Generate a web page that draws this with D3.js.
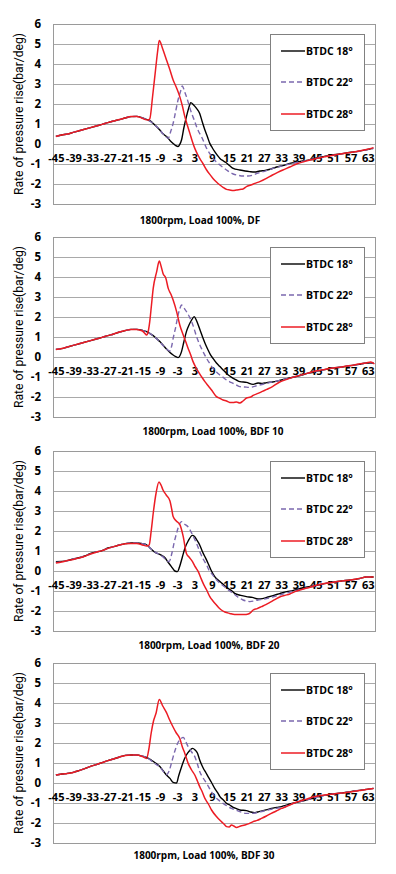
<!DOCTYPE html>
<html><head><meta charset="utf-8">
<script src="https://cdn.jsdelivr.net/npm/d3@7"></script>
<style>body{margin:0;background:#fff}svg{display:block}</style>
</head><body>
<svg id="c" width="396" height="874"></svg>
<script>
// ---------- DATA (crank angle [deg], rate of pressure rise [bar/deg]) ----------
const SERIES_NAMES = ["BTDC 18\u00B0", "BTDC 22\u00B0", "BTDC 28\u00B0"];
const TITLES = ["1800rpm, Load 100%, DF", "1800rpm, Load 100%, BDF 10", "1800rpm, Load 100%, BDF 20", "1800rpm, Load 100%, BDF 30"];
const Y_TICKS = [6, 5, 4, 3, 2, 1, 0, -1, -2, -3];
const X_TICKS = [-45, -39, -33, -27, -21, -15, -9, -3, 3, 9, 15, 21, 27, 33, 39, 45, 51, 57, 63];

const DF_18 = [[-45,0.38],[-43,0.45],[-41,0.5],[-39,0.58],[-37,0.66],[-35,0.74],[-33,0.82],[-31,0.9],[-29,0.98],[-27,1.07],[-25,1.15],[-23,1.22],[-21,1.3],[-19,1.37],[-17,1.38],[-15,1.3],[-14,1.25],
 [-13,1.2],[-12,1.12],[-11.3,1.03],[-10,0.85],[-9,0.7],[-8,0.52],[-6.7,0.37],[-5.5,0.18],[-4.4,0.03],[-3.5,-0.08],[-2.7,-0.13],[-2.1,-0.02],[-1.5,0.2],[-0.7,0.8],[0.2,1.37],[1,1.8],[1.7,2.07],[2.7,1.95],[3.7,1.78],[4.8,1.53],[5.7,1.1],[6.6,0.7],[7.5,0.35],[8.3,0.03],[9.2,-0.2],[10,-0.38],[11,-0.58],[11.8,-0.72],[13,-0.85],[14.1,-0.95],[15.3,-1.1],[16.4,-1.22],[18.7,-1.3],[20.5,-1.35],[22.1,-1.38],[23.8,-1.4],[25.6,-1.35],[27.5,-1.32],[29.5,-1.25],[31.4,-1.15],[33.5,-1.08],[36,-0.97],[38.5,-0.9],[41.8,-0.82],[44.5,-0.72],[47.5,-0.63],[50.5,-0.55],[53.3,-0.5],[56,-0.44],[59,-0.38],[62,-0.3],[64.8,-0.22]];
const DF_22 = [[-45,0.38],[-43,0.45],[-41,0.5],[-39,0.58],[-37,0.66],[-35,0.74],[-33,0.82],[-31,0.9],[-29,0.98],[-27,1.07],[-25,1.15],[-23,1.22],[-21,1.3],[-19,1.37],[-17,1.38],[-15,1.3],[-14,1.25],
 [-13,1.18],[-12,1.1],[-11,0.98],[-10,0.85],[-9,0.7],[-8,0.52],[-7,0.38],[-6.1,0.28],[-5.3,0.6],[-4.4,1.03],[-3.5,1.65],[-2.7,2.2],[-1.9,2.6],[-1.2,2.9],[-0.5,2.65],[0.2,2.37],[1.1,1.95],[2,1.53],[2.9,1.2],[3.7,0.87],[4.5,0.6],[5.4,0.37],[6.3,0.08],[7.2,-0.22],[8.3,-0.48],[9.4,-0.72],[10.6,-0.9],[11.8,-1.05],[13,-1.18],[14.1,-1.3],[15.3,-1.42],[16.4,-1.5],[18,-1.56],[19.8,-1.6],[21.5,-1.6],[23.3,-1.55],[25,-1.45],[26.8,-1.38],[28.5,-1.3],[30.2,-1.22],[32.5,-1.13],[35,-1.03],[37.5,-0.95],[40,-0.88],[42.5,-0.8],[45,-0.72],[48,-0.63],[51,-0.56],[54,-0.49],[57,-0.43],[60,-0.36],[63,-0.28],[65,-0.22]];
const DF_28 = [[-45,0.38],[-43,0.45],[-41,0.5],[-39,0.58],[-37,0.66],[-35,0.74],[-33,0.82],[-31,0.9],[-29,0.98],[-27,1.07],[-25,1.15],[-23,1.22],[-21,1.3],[-19,1.37],[-17,1.38],[-15,1.28],[-14,1.22],
 [-13.1,1.2],[-12.5,1.25],[-11.5,2.4],[-10.5,3.7],[-9.8,4.6],[-9.2,5.17],[-8,4.75],[-6.7,4.2],[-5.5,3.7],[-4.4,3.2],[-3.2,2.8],[-2.1,2.37],[-1.2,1.9],[-0.35,1.37],[0.5,0.95],[1.4,0.53],[2.2,0.15],[3.1,-0.22],[4,-0.5],[4.8,-0.72],[6,-1.0],[7.2,-1.3],[8.3,-1.52],[9.4,-1.72],[10.6,-1.9],[11.8,-2.05],[13,-2.18],[14.1,-2.27],[15.2,-2.3],[16.4,-2.33],[17.5,-2.3],[18.7,-2.27],[19.8,-2.25],[21,-2.13],[22.5,-2.05],[23.9,-1.97],[25.6,-1.88],[27.9,-1.72],[30,-1.55],[31.8,-1.42],[33.6,-1.3],[36,-1.15],[38.3,-1.0],[41,-0.88],[43,-0.8],[45.2,-0.72],[48,-0.64],[51,-0.56],[54,-0.49],[57,-0.42],[60,-0.35],[63,-0.26],[65,-0.18]];

const BDF10_18 = [[-45,0.38],[-43,0.42],[-41,0.5],[-39,0.58],[-37,0.66],[-35,0.74],[-33,0.82],[-31,0.9],[-29,0.98],[-27,1.07],[-25,1.15],[-23,1.25],[-21,1.32],[-19,1.38],[-17,1.38],[-15,1.33],
 [-13.6,1.27],[-12.5,1.18],[-11.3,1.07],[-10,0.9],[-9,0.77],[-7.8,0.58],[-6.7,0.4],[-5.5,0.22],[-4.4,0.1],[-3.5,0.02],[-2.7,-0.03],[-2.1,0.05],[-1.5,0.27],[-0.7,0.75],[0.2,1.27],[1.1,1.6],[2,1.85],[2.9,2.02],[3.6,1.85],[4.3,1.6],[5.1,1.27],[6,0.93],[6.9,0.6],[7.7,0.35],[8.5,0.12],[9.4,-0.07],[10.6,-0.3],[11.8,-0.48],[13,-0.66],[14.1,-0.82],[15.2,-0.95],[16.4,-1.07],[17.5,-1.15],[18.7,-1.23],[21,-1.27],[23.3,-1.37],[25,-1.3],[26.5,-1.32],[28,-1.28],[30,-1.25],[32.5,-1.17],[35,-1.08],[37.5,-1.0],[39.5,-0.93],[42,-0.82],[45,-0.72],[48,-0.63],[51,-0.55],[54,-0.5],[57,-0.43],[60,-0.37],[62.5,-0.3],[65,-0.3]];
const BDF10_22 = [[-45,0.38],[-43,0.42],[-41,0.5],[-39,0.58],[-37,0.66],[-35,0.74],[-33,0.82],[-31,0.9],[-29,0.98],[-27,1.07],[-25,1.15],[-23,1.25],[-21,1.32],[-19,1.38],[-17,1.38],[-15,1.33],
 [-13.6,1.27],[-12.5,1.18],[-11.3,1.05],[-10,0.9],[-9,0.75],[-7.8,0.56],[-6.7,0.4],[-5.5,0.3],[-4.9,0.55],[-4.4,0.93],[-3.5,1.5],[-2.7,2.1],[-2.1,2.4],[-1.5,2.6],[-0.6,2.45],[0.2,2.27],[1.1,2.05],[2,1.77],[2.9,1.4],[3.7,1.02],[4.5,0.72],[5.4,0.43],[6.3,0.17],[7.2,-0.07],[8.3,-0.33],[9.4,-0.57],[10.6,-0.75],[11.8,-0.9],[13,-1.03],[14.1,-1.15],[15.2,-1.24],[16.4,-1.32],[17.5,-1.4],[18.7,-1.48],[20.4,-1.5],[22.1,-1.52],[23.5,-1.48],[25,-1.42],[27,-1.35],[29,-1.28],[31,-1.22],[33,-1.15],[35.5,-1.07],[38,-0.98],[40,-0.9],[42.5,-0.8],[45,-0.72],[48,-0.63],[51,-0.55],[54,-0.5],[57,-0.43],[60,-0.37],[62.5,-0.3],[65,-0.28]];
const BDF10_28 = [[-45,0.38],[-43,0.42],[-41,0.5],[-39,0.58],[-37,0.66],[-35,0.74],[-33,0.82],[-31,0.9],[-29,0.98],[-27,1.07],[-25,1.15],[-23,1.25],[-21,1.32],[-19,1.38],[-17,1.38],[-15,1.3],
 [-14.2,1.18],[-13.6,1.1],[-13,1.3],[-12.5,1.77],[-11.9,2.6],[-11.3,3.43],[-10.1,4.27],[-9.2,4.8],[-8.5,4.5],[-7.9,4.18],[-6.9,3.93],[-6.1,3.43],[-5.2,3.15],[-4.4,2.85],[-3.2,2.27],[-2.1,1.6],[-0.9,1.1],[0,0.75],[0.8,0.43],[1.7,0.1],[2.5,-0.23],[3.4,-0.5],[4.3,-0.73],[5.5,-1.0],[6.6,-1.23],[7.8,-1.45],[8.9,-1.65],[10.6,-1.98],[11.8,-2.07],[12.9,-2.15],[14.1,-2.2],[15.2,-2.27],[16.4,-2.28],[17.5,-2.25],[18.7,-2.3],[19.8,-2.2],[21,-2.05],[22.5,-2.0],[23.3,-1.92],[25,-1.82],[26.5,-1.72],[28,-1.62],[30,-1.48],[32.5,-1.25],[35,-1.12],[37,-1.02],[39.5,-0.92],[42,-0.82],[45,-0.7],[48,-0.62],[51,-0.55],[54,-0.5],[57,-0.43],[60,-0.35],[62.5,-0.3],[64,-0.25],[65.3,-0.35]];

const BDF20_18 = [[-45,0.47],[-43,0.48],[-41,0.52],[-39,0.6],[-37,0.66],[-35,0.75],[-33,0.88],[-31,0.95],[-29,1.02],[-27,1.15],[-25,1.22],[-23,1.3],[-21,1.37],[-19,1.4],[-17,1.4],[-15,1.37],
 [-13.5,1.3],[-12,1.1],[-10.5,0.92],[-9,0.83],[-8,0.75],[-7.3,0.67],[-6.2,0.45],[-5,0.22],[-3.8,0.0],[-2.9,-0.03],[-2.2,0.2],[-1.2,0.7],[-0.3,1.15],[0.8,1.5],[2.3,1.78],[3,1.72],[3.8,1.55],[4.8,1.3],[5.8,0.95],[6.9,0.63],[7.8,0.35],[8.7,0.05],[10,-0.28],[11.8,-0.53],[13.2,-0.7],[14.6,-0.87],[16,-1.0],[16.9,-1.12],[19,-1.22],[21,-1.28],[23,-1.32],[25,-1.4],[26.5,-1.38],[28,-1.32],[30.2,-1.23],[32.5,-1.13],[34.9,-1.03],[37,-0.98],[39,-0.9],[42,-0.8],[45,-0.72],[48,-0.63],[51,-0.56],[54,-0.5],[57,-0.45],[60,-0.38],[62.5,-0.3],[65,-0.3]];
const BDF20_22 = [[-45,0.43],[-43,0.46],[-41,0.52],[-39,0.6],[-37,0.66],[-35,0.75],[-33,0.86],[-31,0.95],[-29,1.02],[-27,1.13],[-25,1.22],[-23,1.3],[-21,1.37],[-19,1.4],[-17,1.4],[-15,1.37],
 [-13.5,1.3],[-12,1.1],[-10.5,0.93],[-9,0.82],[-8,0.72],[-7,0.58],[-5.8,0.47],[-4.9,0.85],[-4,1.45],[-3,2.0],[-2.2,2.35],[-1.5,2.47],[-0.5,2.35],[0.8,2.2],[2,1.9],[3,1.6],[4,1.28],[4.8,0.97],[6,0.6],[7.2,0.3],[8,0.05],[8.9,-0.12],[10,-0.33],[11.2,-0.53],[12.6,-0.7],[14.1,-0.87],[15.2,-1.0],[16.4,-1.12],[18,-1.3],[19.8,-1.45],[21,-1.5],[22.2,-1.53],[23.6,-1.5],[25,-1.45],[26.5,-1.42],[28,-1.38],[30,-1.3],[32,-1.22],[35,-1.1],[37.5,-1.0],[40,-0.92],[42.5,-0.82],[45,-0.72],[48,-0.63],[51,-0.56],[54,-0.5],[57,-0.45],[60,-0.38],[62.5,-0.3],[65,-0.3]];
const BDF20_28 = [[-45,0.4],[-43,0.45],[-41,0.52],[-39,0.58],[-37,0.65],[-35,0.74],[-33,0.85],[-31,0.94],[-29,1.02],[-27,1.13],[-25,1.22],[-23,1.3],[-21,1.36],[-19,1.38],[-17,1.38],[-15,1.3],
 [-13.5,1.25],[-12.7,1.3],[-12,2.0],[-11.2,3.0],[-10.3,3.9],[-9.3,4.45],[-8.6,4.3],[-7.9,4.05],[-6.8,3.8],[-5.5,3.5],[-4.9,3.1],[-4.4,2.72],[-3.3,2.5],[-2.1,2.33],[-0.9,1.72],[0.2,0.88],[1.2,0.68],[2.3,0.47],[3.3,0.2],[4.3,-0.03],[5.2,-0.35],[6,-0.62],[7.2,-0.95],[8.3,-1.28],[9.4,-1.5],[10.6,-1.7],[11.5,-1.85],[12.3,-1.95],[13.5,-2.05],[15.2,-2.12],[16.9,-2.17],[18.7,-2.17],[20.2,-2.18],[21.6,-2.15],[22.5,-2.07],[23.3,-1.95],[24.7,-1.88],[26.2,-1.78],[27.7,-1.68],[29.1,-1.57],[30.8,-1.43],[32.5,-1.3],[34.3,-1.22],[36,-1.15],[38,-1.02],[39.5,-0.95],[42,-0.85],[45,-0.72],[48,-0.63],[51,-0.56],[54,-0.5],[57,-0.45],[60,-0.38],[62.5,-0.3],[65,-0.3]];

const BDF30_18 = [[-45,0.4],[-43,0.45],[-41,0.48],[-39,0.53],[-37,0.62],[-35,0.72],[-33,0.83],[-31,0.92],[-29,1.02],[-27,1.12],[-25,1.2],[-23,1.3],[-21,1.38],[-19,1.4],[-17,1.4],[-15,1.34],
 [-13.6,1.28],[-12,1.15],[-10.5,1.0],[-9,0.82],[-7.8,0.6],[-6.7,0.4],[-5.5,0.23],[-4.4,0.03],[-3.2,0.0],[-2.5,0.35],[-1.5,0.8],[-0.5,1.2],[0.2,1.4],[1.2,1.6],[2.3,1.73],[3.2,1.65],[4,1.5],[4.8,1.15],[6,0.75],[7,0.5],[7.7,0.32],[8.8,0.05],[10,-0.27],[11,-0.48],[11.8,-0.68],[13,-0.85],[14.1,-1.02],[15.2,-1.1],[16.4,-1.22],[17.5,-1.28],[18.7,-1.35],[21,-1.38],[22.5,-1.45],[23.9,-1.48],[25.3,-1.43],[26.8,-1.38],[28.2,-1.33],[29.6,-1.27],[31.5,-1.22],[33.1,-1.18],[34.5,-1.12],[36,-1.05],[38,-0.98],[40,-0.92],[42.5,-0.82],[44.6,-0.7],[48,-0.62],[51,-0.55],[54,-0.5],[57,-0.43],[60,-0.37],[62.5,-0.32],[65,-0.27]];
const BDF30_22 = [[-45,0.4],[-43,0.45],[-41,0.48],[-39,0.53],[-37,0.62],[-35,0.72],[-33,0.83],[-31,0.92],[-29,1.02],[-27,1.12],[-25,1.2],[-23,1.3],[-21,1.38],[-19,1.4],[-17,1.4],[-15,1.34],
 [-13.6,1.28],[-12,1.12],[-10.5,0.95],[-9,0.8],[-7.8,0.58],[-6.7,0.42],[-5.8,0.6],[-4.8,1.1],[-3.8,1.6],[-2.8,2.0],[-1.8,2.2],[-0.9,2.28],[0,2.05],[0.8,1.82],[2,1.55],[3.1,1.32],[4,0.95],[4.8,0.57],[6,0.25],[7.2,-0.02],[8.5,-0.35],[10,-0.68],[11.5,-0.87],[12.9,-1.02],[14.3,-1.15],[15.8,-1.27],[17.2,-1.35],[18.7,-1.43],[20.8,-1.52],[22.5,-1.52],[24,-1.5],[25.5,-1.45],[27,-1.4],[28.5,-1.35],[30,-1.3],[32,-1.25],[34,-1.2],[36,-1.08],[38,-0.98],[40,-0.92],[42.5,-0.82],[45,-0.72],[48,-0.62],[51,-0.55],[54,-0.5],[57,-0.43],[60,-0.37],[62.5,-0.32],[65,-0.27]];
const BDF30_28 = [[-45,0.4],[-43,0.45],[-41,0.48],[-39,0.53],[-37,0.62],[-35,0.72],[-33,0.83],[-31,0.92],[-29,1.02],[-27,1.12],[-25,1.2],[-23,1.3],[-21,1.38],[-19,1.4],[-17,1.4],[-15,1.32],
 [-13.6,1.23],[-12.8,1.7],[-12,2.5],[-11.2,3.1],[-10.3,3.5],[-9.2,4.18],[-8,3.85],[-6.7,3.52],[-5.6,3.15],[-4.6,2.85],[-3.3,2.5],[-2.1,2.23],[-1.2,1.8],[-0.35,1.48],[0.8,0.98],[2,0.65],[3.1,0.4],[4,0.1],[4.8,-0.18],[5.7,-0.45],[6.6,-0.77],[7.8,-1.05],[8.9,-1.35],[10.6,-1.68],[12.3,-1.93],[13.2,-2.05],[14.1,-2.18],[15,-2.2],[15.8,-2.1],[16.6,-2.15],[17.5,-2.22],[19,-2.15],[20.4,-2.1],[21.9,-2.03],[23.3,-1.93],[24.7,-1.87],[26.2,-1.77],[27.9,-1.65],[29.6,-1.52],[31.3,-1.4],[33.1,-1.27],[34.5,-1.2],[36,-1.1],[37.5,-1.0],[38.9,-0.93],[41.5,-0.82],[44.6,-0.68],[48,-0.6],[51,-0.55],[54,-0.5],[57,-0.45],[60,-0.38],[62.5,-0.32],[65,-0.27]];

// ---------- LAYOUT / STYLE ----------
const panels = [
  {title: TITLES[0], series: [DF_18, DF_22, DF_28], top: 24, titleX: 200, titleY: 224},
  {title: TITLES[1], series: [BDF10_18, BDF10_22, BDF10_28], top: 237, titleX: 213, titleY: 435},
  {title: TITLES[2], series: [BDF20_18, BDF20_22, BDF20_28], top: 451, titleX: 209, titleY: 649},
  {title: TITLES[3], series: [BDF30_18, BDF30_22, BDF30_28], top: 663, titleX: 204, titleY: 859}
];
const styles = [
  {color: "#000000", width: 1.4, dash: null},
  {color: "#7b68ae", width: 1.4, dash: "5,3"},
  {color: "#ec1c24", width: 1.5, dash: null}
];
const L = 53, R = 375, H = 180;
const FONT = "'Open Sans', 'DejaVu Sans', sans-serif";

const svg = d3.select("#c");
const x = d3.scaleLinear().domain([-46, 65.5]).range([L, R]);

panels.forEach(p => {
  const y = d3.scaleLinear().domain([-3, 6]).range([p.top + H, p.top]);
  const g = svg.append("g");

  // grid lines
  g.append("g").selectAll("line").data(Y_TICKS).join("line")
    .attr("x1", L).attr("x2", R)
    .attr("y1", d => Math.round(y(d)) + 0.5).attr("y2", d => Math.round(y(d)) + 0.5)
    .attr("stroke", "#a9a9a9").attr("stroke-width", 1);

  // plot border
  g.append("rect").attr("x", L + 0.5).attr("y", Math.round(y(6)) + 0.5)
    .attr("width", R - L).attr("height", Math.round(y(-3)) - Math.round(y(6)))
    .attr("fill", "none").attr("stroke", "#9a9a9a");

  // y axis
  const ya = g.append("g").attr("transform", `translate(${L},0)`)
    .call(d3.axisLeft(y).tickValues(Y_TICKS).tickSize(0).tickPadding(12).tickFormat(d => String(d)));
  ya.select(".domain").remove();
  ya.selectAll("text").attr("font-family", FONT).attr("font-weight", "bold")
    .attr("font-size", "11.5px").attr("fill", "#000");

  // x axis labels (placed below zero line)
  const xa = g.append("g").attr("transform", `translate(0,${y(0)})`)
    .call(d3.axisBottom(x).tickValues(X_TICKS).tickSize(0).tickPadding(10).tickFormat(d => String(d)));
  xa.select(".domain").remove();
  xa.selectAll("text").attr("font-family", FONT).attr("font-weight", "bold")
    .attr("font-size", "11px").attr("fill", "#000");

  // lines
  const line = d3.line().x(d => x(d[0])).y(d => y(d[1])).curve(d3.curveMonotoneX);
  p.series.forEach((s, i) => {
    g.append("path").datum(s).attr("d", line)
      .attr("fill", "none").attr("stroke", styles[i].color)
      .attr("stroke-width", styles[i].width)
      .attr("stroke-dasharray", styles[i].dash)
      .attr("stroke-linejoin", "round");
  });

  // legend
  const lg = g.append("g");
  lg.append("rect").attr("x", 270.5).attr("y", p.top + 10.5).attr("width", 94).attr("height", 96)
    .attr("fill", "#fff").attr("stroke", "#808080");
  const rows = [27, 58, 90];
  SERIES_NAMES.forEach((n, i) => {
    const yy = p.top + rows[i];
    lg.append("line").attr("x1", 281).attr("x2", 305).attr("y1", yy).attr("y2", yy)
      .attr("stroke", styles[i].color).attr("stroke-width", styles[i].width)
      .attr("stroke-dasharray", styles[i].dash);
    lg.append("text").attr("x", 306).attr("y", yy + 4).text(n)
      .attr("font-family", FONT).attr("font-weight", "bold").attr("font-size", "10.5px").attr("fill", "#000");
  });

  // y-axis title
  g.append("text").attr("transform", `translate(23,${p.top + 90}) rotate(-90)`)
    .attr("text-anchor", "middle").attr("font-family", "'Liberation Sans Narrow', 'Roboto', 'Noto Sans', sans-serif")
    .attr("font-size", "13px").attr("textLength", 162).attr("lengthAdjust", "spacingAndGlyphs")
    .attr("fill", "#000").text("Rate of pressure rise(bar/deg)");

  // panel title
  g.append("text").attr("x", p.titleX).attr("y", p.titleY).attr("text-anchor", "middle")
    .attr("font-family", FONT).attr("font-weight", "bold").attr("font-size", "10px")
    .attr("fill", "#000").text(p.title);
});
</script>
</body></html>
